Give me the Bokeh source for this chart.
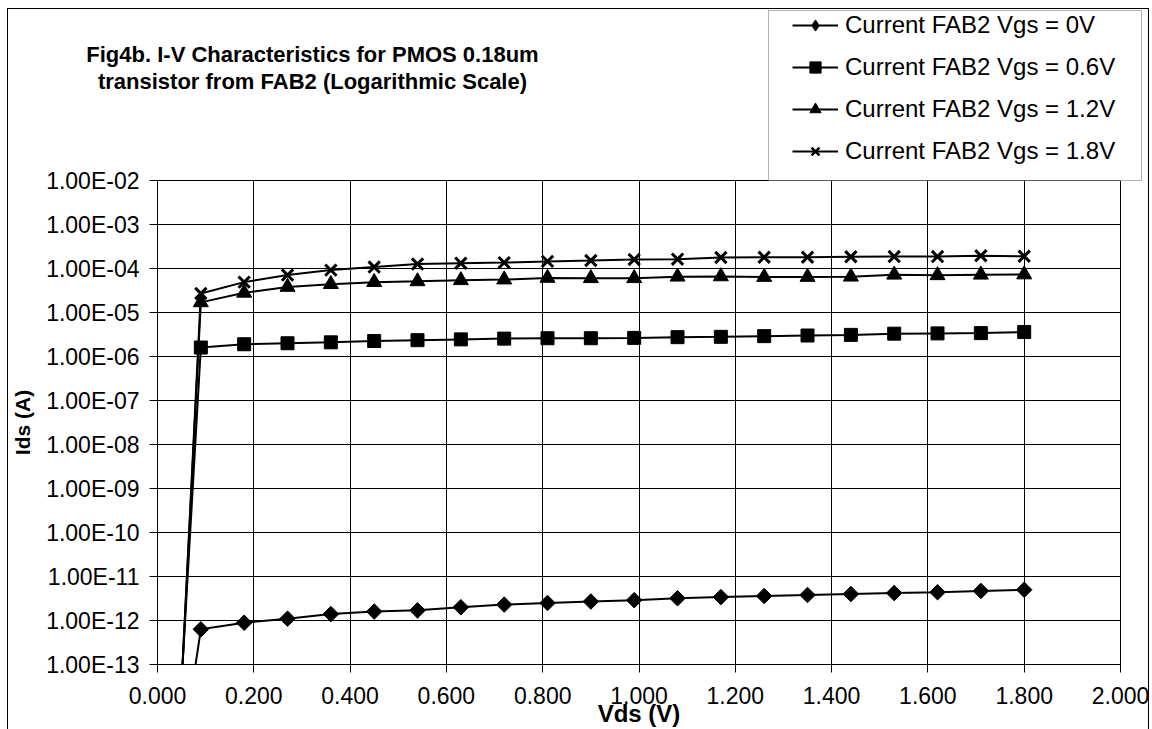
from bokeh.plotting import figure
from bokeh.models import (Range1d, FixedTicker, NumeralTickFormatter, Legend, LegendItem,
                          Label, BoxAnnotation)
from bokeh.embed import file_html
from bokeh.resources import INLINE

# ---------------- data ----------------
vds = [0.00, 0.09, 0.18, 0.27, 0.36, 0.45, 0.54, 0.63, 0.72, 0.81, 0.90,
       0.99, 1.08, 1.17, 1.26, 1.35, 1.44, 1.53, 1.62, 1.71, 1.80]

ids_vgs_00 = [1.8e-19, 6.3e-13, 8.9e-13, 1.1e-12, 1.4e-12, 1.6e-12, 1.7e-12, 2.0e-12,
              2.3e-12, 2.5e-12, 2.7e-12, 2.9e-12, 3.2e-12, 3.4e-12, 3.6e-12, 3.8e-12,
              4.0e-12, 4.2e-12, 4.4e-12, 4.7e-12, 5.0e-12]
ids_vgs_06 = [1.3e-23, 1.6e-6, 1.9e-6, 2.0e-6, 2.1e-6, 2.25e-6, 2.35e-6, 2.45e-6,
              2.55e-6, 2.6e-6, 2.6e-6, 2.65e-6, 2.75e-6, 2.8e-6, 2.9e-6, 3.0e-6,
              3.1e-6, 3.3e-6, 3.35e-6, 3.4e-6, 3.6e-6]
ids_vgs_12 = [5.0e-25, 1.7e-5, 2.8e-5, 3.8e-5, 4.4e-5, 4.9e-5, 5.1e-5, 5.4e-5,
              5.6e-5, 6.1e-5, 6.0e-5, 6.0e-5, 6.5e-5, 6.6e-5, 6.4e-5, 6.4e-5,
              6.5e-5, 7.2e-5, 7.0e-5, 7.2e-5, 7.3e-5]
ids_vgs_18 = [3.0e-25, 2.7e-5, 4.9e-5, 7.1e-5, 9.2e-5, 1.08e-4, 1.26e-4, 1.32e-4,
              1.36e-4, 1.45e-4, 1.52e-4, 1.6e-4, 1.63e-4, 1.78e-4, 1.8e-4, 1.8e-4,
              1.85e-4, 1.87e-4, 1.87e-4, 1.95e-4, 1.9e-4]

series_labels = ["Current FAB2 Vgs = 0V", "Current FAB2 Vgs = 0.6V",
                 "Current FAB2 Vgs = 1.2V", "Current FAB2 Vgs = 1.8V"]

x_ticks = [0.0, 0.2, 0.4, 0.6, 0.8, 1.0, 1.2, 1.4, 1.6, 1.8, 2.0]
y_ticks = [1e-2, 1e-3, 1e-4, 1e-5, 1e-6, 1e-7, 1e-8, 1e-9, 1e-10, 1e-11, 1e-12, 1e-13]
y_tick_labels = ["1.00E-02", "1.00E-03", "1.00E-04", "1.00E-05", "1.00E-06", "1.00E-07",
                 "1.00E-08", "1.00E-09", "1.00E-10", "1.00E-11", "1.00E-12", "1.00E-13"]

title_lines = ["Fig4b. I-V Characteristics for PMOS 0.18um",
               "transistor from FAB2 (Logarithmic Scale)"]

FONT = "Liberation Sans"

marker_styles = [
    dict(marker="square", angle=0.7854, size=11, fill_color="black", line_color="black"),
    dict(marker="square", size=13, fill_color="black", line_color="black"),
    dict(marker="triangle", size=15, fill_color="black", line_color="black"),
    dict(marker="x", size=16, line_color="black", line_width=3),
]
legend_marker_styles = [
    dict(marker="diamond", size=16, fill_color="black", line_color="black"),
    dict(marker="square", size=13, fill_color="black", line_color="black"),
    dict(marker="triangle", size=15, fill_color="black", line_color="black"),
    dict(marker="x", size=16, line_color="black", line_width=2.5),
]
series_values = [ids_vgs_00, ids_vgs_06, ids_vgs_12, ids_vgs_18]

# ---------------- main plot ----------------
# outer chart-area border drawn as CSS background lines behind a transparent canvas border
border_css = ("linear-gradient(#000,#000) 7px 8px / 1px 721px no-repeat, "
              "linear-gradient(#000,#000) 7px 8px / 1142px 1px no-repeat, "
              "linear-gradient(#000,#000) 1148px 8px / 1px 721px no-repeat, #ffffff")

p = figure(width=1152, height=729, output_backend="svg", toolbar_location=None,
           y_axis_type="log",
           x_range=Range1d(0.0, 2.0), y_range=Range1d(1e-13, 1e-2),
           min_border_left=157, min_border_right=32, min_border_top=180, min_border_bottom=64,
           styles={"background": border_css})

p.background_fill_color = "white"
p.border_fill_color = None
p.outline_line_color = "black"
p.outline_line_width = 1

for g in (p.xgrid, p.ygrid):
    g.grid_line_color = "black"
    g.grid_line_width = 1
    g.grid_line_alpha = 1.0

p.xaxis.ticker = FixedTicker(ticks=x_ticks)
p.xaxis.formatter = NumeralTickFormatter(format="0.000")
p.yaxis.ticker = FixedTicker(ticks=y_ticks)
p.yaxis.major_label_overrides = {t: s for t, s in zip(y_ticks, y_tick_labels)}

for ax in (p.xaxis[0], p.yaxis[0]):
    ax.axis_line_color = "black"
    ax.major_tick_line_color = "black"
    ax.major_tick_in = 0
    ax.major_tick_out = 8
    ax.minor_tick_in = 0
    ax.minor_tick_out = 0
    ax.minor_tick_line_color = None
    ax.major_label_text_font = FONT
    ax.major_label_text_font_size = "23px"
    ax.major_label_text_color = "black"
    ax.axis_label_text_font = FONT
    ax.axis_label_text_font_style = "bold"
    ax.axis_label_text_color = "black"

p.xaxis.major_label_standoff = 14
p.yaxis.major_label_standoff = 10
p.xaxis.axis_label = "Vds (V)"
p.xaxis.axis_label_text_font_size = "24px"
p.xaxis.axis_label_standoff = -7
p.yaxis.axis_label = "Ids (A)"
p.yaxis.axis_label_text_font_size = "21px"
p.yaxis.axis_label_standoff = 9

for vals, ms in zip(series_values, marker_styles):
    p.line(vds, vals, line_color="black", line_width=2)
    p.scatter(vds, vals, **ms)

# ---------------- header overlay (title + legend); data coords == page pixels ----------------
hdr = figure(width=1152, height=182, output_backend="svg", toolbar_location=None,
             x_range=Range1d(0, 1152), y_range=Range1d(182, 0),
             x_axis_location=None, y_axis_location=None, min_border=0,
             styles={"position": "absolute", "top": "0px", "left": "0px"})
hdr.outline_line_color = None
hdr.xgrid.visible = False
hdr.ygrid.visible = False
hdr.background_fill_color = None
hdr.border_fill_color = None

for i, line in enumerate(title_lines):
    hdr.add_layout(Label(x=312, y=54 + 26.5 * i, text=line,
                         text_align="center", text_baseline="middle",
                         text_font=FONT, text_font_style="bold", text_font_size="22px",
                         text_color="black"))

hdr.add_layout(BoxAnnotation(left=768, right=1141, top=10, bottom=180,
                             fill_color="white", fill_alpha=1.0,
                             line_color="black", line_width=1))

# legend swatches: hidden copies of the series (only their legend glyphs are drawn)
items = []
for lab, vals, ms in zip(series_labels, series_values, legend_marker_styles):
    rl = hdr.line(vds, vals, line_color="black", line_width=2, visible=False)
    rs = hdr.scatter(vds, vals, visible=False, **ms)
    items.append(LegendItem(label=lab, renderers=[rl, rs]))

legend = Legend(items=items)
legend.location = (792, 17)
legend.orientation = "vertical"
legend.click_policy = "none"
legend.label_text_font = FONT
legend.label_text_font_size = "24px"
legend.label_text_color = "black"
legend.glyph_width = 46
legend.glyph_height = 28
legend.label_height = 28
legend.label_standoff = 7
legend.spacing = 14
legend.padding = 0
legend.margin = 0
legend.border_line_color = None
legend.background_fill_alpha = 0
hdr.add_layout(legend)

open("out.html", "w").write(file_html([p, hdr], INLINE))
